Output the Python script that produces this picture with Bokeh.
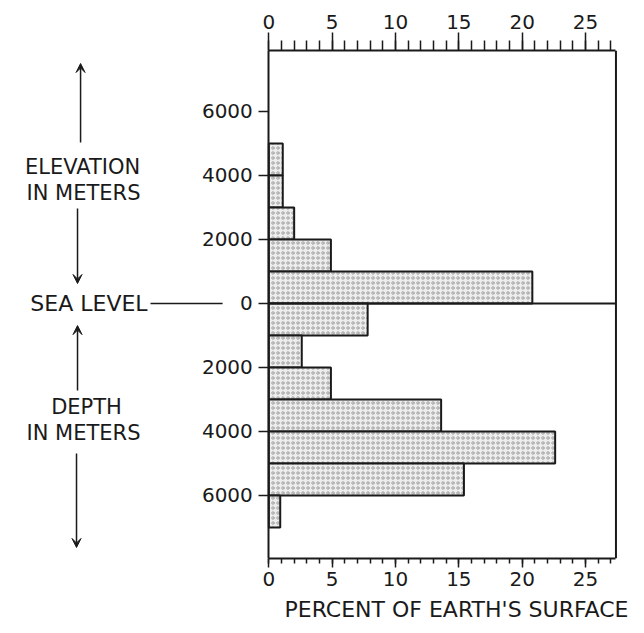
from bokeh.plotting import figure
from bokeh.models import (LinearAxis, SingleIntervalTicker, FixedTicker, Span, Label,
                          Arrow, VeeHead, ColumnDataSource, Title)
from bokeh.embed import file_html
from bokeh.resources import INLINE

# Hypsometric distribution: elevation bins (m, + above sea level) and percent of surface
bin_top = [5000, 4000, 3000, 2000, 1000, 0, -1000, -2000, -3000, -4000, -5000, -6000]
bin_bottom = [4000, 3000, 2000, 1000, 0, -1000, -2000, -3000, -4000, -5000, -6000, -7000]
percent = [1.1, 1.1, 2.0, 4.9, 20.8, 7.8, 2.6, 4.9, 13.6, 22.6, 15.4, 0.9]

x_max = 27.4
y_ticks = [-6000, -4000, -2000, 0, 2000, 4000, 6000]
y_tick_labels = {t: str(abs(t)) for t in y_ticks}

FONT = "DejaVu Sans"
INK = "#1a1a1a"

p = figure(width=644, height=633, x_range=(-21.18, 28.39), y_range=(-7969, 7906),
           output_backend="svg", toolbar_location=None,
           min_border_left=0, min_border_right=16, min_border_top=50, min_border_bottom=75)
p.xgrid.visible = False
p.ygrid.visible = False
p.outline_line_color = None
p.background_fill_color = "white"
p.border_fill_color = "white"

src = ColumnDataSource(dict(top=bin_top, bottom=bin_bottom, right=percent, left=[0] * len(percent)))
p.quad(left="left", right="right", top="top", bottom="bottom", source=src,
       fill_color="#ededed", line_color=INK, line_width=2,
       hatch_pattern="ring", hatch_scale=5, hatch_color="#8f8f8f", hatch_weight=0.8)

xa = p.xaxis[0]
xa.ticker = SingleIntervalTicker(interval=5, num_minor_ticks=5)
top_axis = LinearAxis(ticker=SingleIntervalTicker(interval=5, num_minor_ticks=5))
p.add_layout(top_axis, "above")

for ax, tout, mout, stand in [(xa, 9, 5, 4), (top_axis, 18, 10, 4)]:
    ax.bounds = (0, x_max)
    ax.axis_line_color = INK
    ax.axis_line_width = 2
    ax.major_tick_line_color = INK
    ax.major_tick_line_width = 1.5
    ax.minor_tick_line_color = INK
    ax.minor_tick_line_width = 1.5
    ax.major_tick_in = 0
    ax.minor_tick_in = 0
    ax.major_tick_out = tout
    ax.minor_tick_out = mout
    ax.major_label_standoff = stand
    ax.major_label_text_font = FONT
    ax.major_label_text_font_size = "20px"
    ax.major_label_text_color = INK

# axis title, right-aligned under the box
p.add_layout(Title(text="PERCENT OF EARTH'S SURFACE", align="right", text_font=FONT,
                   text_font_size="22px", text_font_style="normal", text_color=INK,
                   standoff=12, vertical_align="bottom"), "below")

ya = p.yaxis[0]
ya.fixed_location = 0
ya.ticker = FixedTicker(ticks=y_ticks)
ya.major_label_overrides = y_tick_labels
ya.axis_line_color = INK
ya.axis_line_width = 2
ya.major_tick_line_color = INK
ya.major_tick_line_width = 1.5
ya.major_tick_in = 0
ya.major_tick_out = 10
ya.minor_tick_line_color = None
ya.major_label_standoff = 6
ya.major_label_text_font = FONT
ya.major_label_text_font_size = "20px"
ya.major_label_text_color = INK

# right edge of the chart box
p.add_layout(Span(location=x_max, dimension="height", line_color=INK, line_width=2))
# sea level line across the plot and to the left label
p.add_layout(Arrow(x_start=0, y_start=0, x_end=x_max, y_end=0, start=None, end=None,
                   line_color=INK, line_width=2))
p.add_layout(Arrow(x_start=-9.34, y_start=0, x_end=-3.65, y_end=0, start=None, end=None,
                   line_color=INK, line_width=1.5))


def lab(text, x, y, align="center", size="21px"):
    p.add_layout(Label(x=x, y=y, text=text, text_align=align, text_baseline="middle",
                       text_font=FONT, text_font_size=size, text_color=INK))


lab("ELEVATION", -14.70, 4250)
lab("IN METERS", -14.63, 3440)
lab("SEA LEVEL", -9.57, 0, align="right", size="22px")
lab("DEPTH", -14.39, -3250)
lab("IN METERS", -14.63, -4060)


def arr(x, y0, y1):
    p.add_layout(Arrow(x_start=x, y_start=y0, x_end=x, y_end=y1,
                       end=VeeHead(size=9, fill_color=INK, line_color=INK, line_width=1),
                       line_color=INK, line_width=1.5))


arr(-14.86, 5030, 7500)
arr(-15.10, 2970, 625)
arr(-15.10, -2720, -690)
arr(-15.18, -4690, -7625)

open("out.html", "w").write(file_html(p, INLINE))
